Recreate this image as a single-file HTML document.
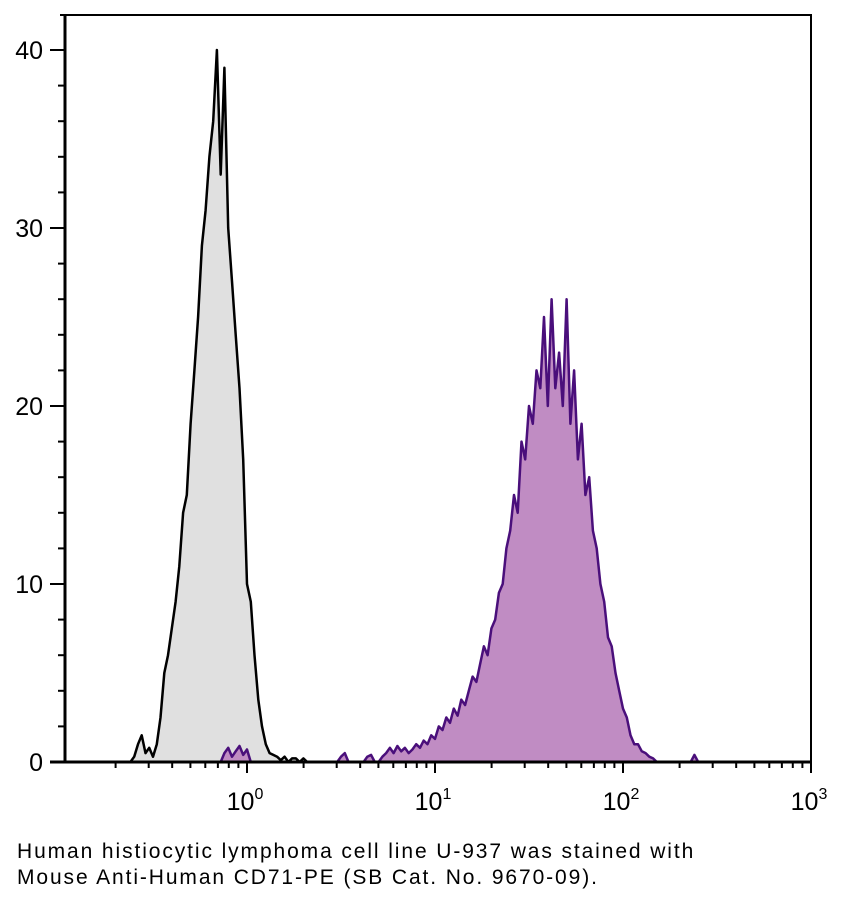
<!DOCTYPE html>
<html><head><meta charset="utf-8"><style>
body{margin:0;background:#fff;width:841px;height:906px;overflow:hidden;font-family:"Liberation Sans",sans-serif}
svg{position:absolute;left:0;top:0}
.cap{position:absolute;left:17px;top:839px;font-size:21px;letter-spacing:1.9px;line-height:26px;color:#000;white-space:nowrap}
</style></head><body>
<svg id="chart" width="841" height="906"></svg>
<div class="cap">Human histiocytic lymphoma cell line U-937 was stained with<br>Mouse Anti-Human CD71-PE (SB Cat. No. 9670-09).</div>
<script>
const grayStart = -0.62;
const purpleStart = -0.14;
const binStep = 0.02;
const grayCounts = [0,0.3,1,1.5,0.5,0.8,0.3,1,2.5,5,6,7.5,9,11,14,15,19,22,25,29,31,34,36,40,33,39,30,27,24,21,17,10,9,6,3.5,2,1,0.5,0.4,0.3,0.1,0.3,0,0.2,0.2,0,0.2,0];
const purpleCounts = [0,0.5,0.8,0.3,0.6,0.9,0.4,0.7,0,0,0,0,0,0,0,0,0,0,0,0,0,0,0,0,0,0,0,0,0,0,0,0,
0.3,0.5,0,0,0,0,0,0.3,0.4,0,0,0.3,0.5,0.8,0.5,0.9,0.6,0.8,0.5,0.7,1,0.8,1.2,1,1.5,1.3,2,1.8,2.5,2.2,3,2.6,3.5,3.2,4,4.8,4.5,5.5,6.5,6,7.5,8,9.5,10,12,13,15,14,18,17,20,19,22,21,25,20,26,21,23,20,26,19,22,17,19,15,16,13,12,10,9,7,6.5,5,4,3,2.5,1.5,1,1,0.6,0.5,0.3,0.2,0,0,0,0,0,0,0,0,0,0,0.4,0];
const yTicks = [0,10,20,30,40];
const xDecades = [0,1,2,3];

const NS="http://www.w3.org/2000/svg";
const svg=document.getElementById('chart');
const L=65,R=811,T=15,B=762;
const x=lg=>247+(lg)*188;
const y=v=>B-v*17.8;
function el(tag,attrs){const e=document.createElementNS(NS,tag);for(const k in attrs)e.setAttribute(k,attrs[k]);svg.appendChild(e);return e;}
function series(start,vals,fill,stroke,name){
  let pts=vals.map((v,i)=>x(start+i*binStep).toFixed(1)+','+y(v).toFixed(1));
  const x0=x(start).toFixed(1),x1=x(start+(vals.length-1)*binStep).toFixed(1);
  const a=el('polygon',{points:x0+','+B+' '+pts.join(' ')+' '+x1+','+B,fill:fill});
  
  
  const l=el('polyline',{points:pts.join(' '),fill:'none',stroke:stroke,'stroke-width':2.5,'stroke-linejoin':'round'});
  
  
}
series(grayStart,grayCounts,'#e0e0e0','#000','isotype-control');
series(purpleStart,purpleCounts,'#c08cc3','#4a0f7b','cd71-pe');
const f=el('polyline',{points:`${L-5},${T} ${R},${T} ${R},${B}`,fill:'none',stroke:'#000','stroke-width':2});


const ya=el('line',{x1:L,y1:T,x2:L,y2:B,stroke:'#000','stroke-width':3});


const xa=el('line',{x1:50,y1:B,x2:R,y2:B,stroke:'#000','stroke-width':3});


for(let v=0;v<=40;v+=2){
  const major=v%10===0;
  el('line',{x1:major?50:58,y1:y(v),x2:L,y2:y(v),stroke:'#000','stroke-width':2});
}
yTicks.forEach(v=>{
  const t=el('text',{x:43,y:y(v)+9,'text-anchor':'end','font-size':25,'font-family':'Liberation Sans, sans-serif'});
  t.textContent=v;
  
  
});
for(let d=-1;d<3;d++){for(let m=1;m<=9;m++){
  const lg=d+Math.log10(m); const px=x(lg); if(px<L+5)continue;
  el('line',{x1:px,y1:B,x2:px,y2:B+(m===1?11:6),stroke:'#000','stroke-width':2});
}}
el('line',{x1:x(3),y1:B,x2:x(3),y2:B+11,stroke:'#000','stroke-width':2});
xDecades.forEach(d=>{
  const t=el('text',{x:x(d)-2,y:810,'text-anchor':'middle','font-size':25,'font-family':'Liberation Sans, sans-serif'});
  t.innerHTML='10<tspan dy="-11" font-size="16">'+d+'</tspan>';
  
  
});
</script>
</body></html>
